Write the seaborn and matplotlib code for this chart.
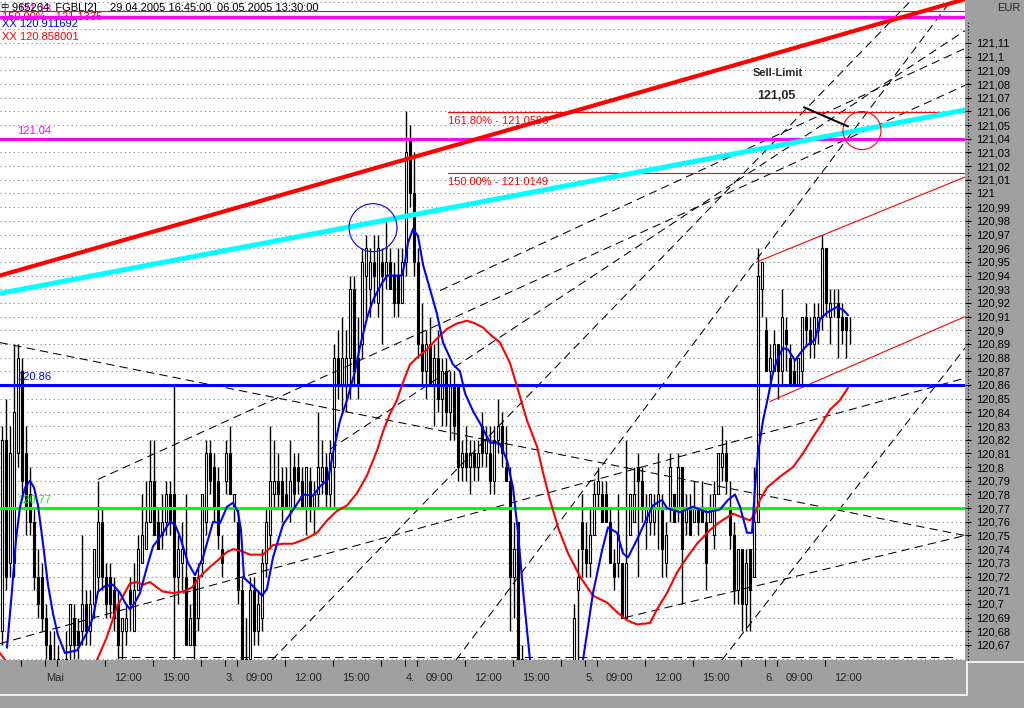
import numpy as np
import pandas as pd
import matplotlib
matplotlib.use("Agg")
import matplotlib.pyplot as plt
from matplotlib.patches import Ellipse
from matplotlib.lines import Line2D
import seaborn as sns

# FGBL 15-minute candles, 29.04.2005 16:45 - 06.05.2005 13:30
# values are ticks above 120.00 (1 tick = 0.01)
bar_open = [68, 82, 73, 73, 81, 87, 81, 78, 76, 72, 72, 69, 67, 66, 66, 65, 65, 67, 69, 68,
            68, 70, 68, 70, 72, 76, 72, 72, 71, 70, 68, 68, 71, 68, 71, 73, 74, 76, 79, 76,
            75, 76, 78, 78, 72, 73, 72, 67, 72, 69, 73, 76, 81, 80, 79, 74, 79, 81, 77, 76,
            71, 65, 66, 71, 68, 69, 73, 75, 78, 79, 79, 78, 77, 80, 80, 79, 77, 79, 77, 78,
            79, 80, 78, 80, 88, 86, 86, 88, 93, 88, 89, 94, 93, 95, 92, 95, 94, 95, 94, 94,
            92, 95, 104, 100, 95, 89, 87, 89, 86, 88, 85, 87, 84, 86, 86, 80, 81, 80, 81, 80,
            83, 81, 81, 79, 82, 83, 80, 79, 72, 76, 66, 63, 65, 61, 59, 60, 57, 59, 58, 59,
            61, 60, 62, 63, 71, 76, 74, 73, 75, 78, 78, 78, 76, 73, 73, 73, 69, 75, 76, 80,
            79, 76, 76, 76, 77, 77, 73, 77, 78, 77, 80, 76, 77, 76, 77, 77, 76, 76, 75, 78,
            80, 81, 77, 75, 71, 74, 70, 74, 72, 76, 93, 90, 87, 87, 89, 87, 90, 88, 87, 86,
            87, 91, 90, 89, 90, 91, 96, 91, 92, 92, 91, 91, 90]
bar_high = [83, 85, 83, 89, 89, 88, 83, 80, 77, 74, 73, 70, 68, 68, 67, 66, 68, 70, 70, 69,
            75, 71, 71, 74, 79, 77, 73, 73, 72, 71, 69, 70, 72, 73, 75, 78, 79, 82, 82, 77,
            78, 79, 79, 86, 75, 76, 78, 70, 72, 73, 78, 82, 82, 81, 80, 75, 82, 83, 78, 77,
            72, 69, 72, 72, 71, 74, 77, 83, 82, 81, 80, 80, 82, 81, 81, 80, 80, 80, 79, 84,
            82, 81, 82, 89, 90, 91, 90, 94, 94, 91, 96, 97, 96, 97, 97, 96, 98, 96, 95, 96,
            96, 106, 105, 103, 96, 92, 90, 91, 89, 90, 88, 88, 87, 87, 86, 82, 83, 82, 82, 82,
            84, 83, 83, 83, 85, 84, 83, 80, 76, 76, 67, 66, 66, 63, 62, 61, 60, 61, 60, 62,
            63, 63, 64, 70, 74, 78, 76, 77, 79, 80, 79, 79, 77, 74, 78, 73, 82, 78, 80, 81,
            80, 78, 78, 78, 81, 78, 76, 81, 78, 81, 80, 78, 78, 79, 77, 79, 77, 78, 79, 81,
            83, 82, 79, 76, 74, 74, 74, 74, 80, 96, 95, 91, 89, 90, 89, 93, 91, 89, 88, 88,
            91, 92, 91, 92, 92, 97, 96, 93, 93, 93, 92, 91, 91]
bar_low = [67, 71, 72, 72, 80, 78, 75, 75, 71, 69, 68, 66, 64, 64, 63, 64, 64, 64, 66, 66,
           67, 67, 67, 69, 71, 71, 69, 69, 68, 66, 66, 67, 68, 68, 71, 73, 74, 76, 75, 74,
           74, 75, 75, 66, 70, 71, 67, 67, 66, 68, 72, 75, 78, 76, 74, 72, 78, 78, 76, 70,
           64, 63, 66, 67, 67, 68, 72, 74, 77, 77, 76, 77, 76, 77, 78, 77, 75, 76, 75, 77,
           78, 77, 77, 77, 85, 84, 84, 85, 86, 85, 88, 91, 91, 92, 91, 89, 93, 93, 91, 91,
           92, 94, 99, 94, 88, 86, 85, 86, 83, 84, 83, 83, 82, 82, 79, 79, 79, 78, 79, 79,
           80, 80, 78, 78, 81, 80, 79, 68, 69, 64, 62, 62, 60, 58, 57, 56, 56, 57, 56, 58,
           59, 59, 60, 62, 63, 72, 72, 72, 75, 77, 76, 76, 73, 71, 72, 69, 69, 75, 76, 72,
           76, 74, 75, 75, 74, 72, 72, 76, 76, 76, 70, 75, 75, 76, 75, 76, 71, 76, 74, 78,
           79, 78, 74, 70, 70, 68, 68, 68, 72, 76, 91, 87, 86, 87, 85, 86, 87, 86, 86, 86,
           86, 89, 88, 88, 89, 90, 91, 89, 91, 88, 89, 88, 89]
bar_close = [82, 72, 81, 84, 88, 79, 77, 76, 72, 70, 69, 67, 65, 66, 64, 65, 66, 70, 67, 67,
             70, 68, 70, 74, 76, 72, 70, 70, 69, 67, 69, 69, 70, 71, 74, 75, 76, 79, 75, 74,
             76, 78, 76, 72, 74, 74, 67, 69, 67, 72, 78, 81, 79, 77, 75, 73, 81, 78, 78, 71,
             65, 66, 71, 68, 70, 73, 76, 79, 79, 78, 77, 77, 79, 78, 79, 77, 80, 77, 78, 80,
             80, 78, 81, 88, 86, 88, 88, 93, 87, 86, 95, 96, 95, 94, 96, 94, 95, 93, 92, 92,
             95, 103, 100, 95, 89, 87, 89, 86, 88, 85, 87, 84, 86, 83, 80, 81, 80, 81, 80, 81,
             81, 82, 79, 82, 83, 81, 79, 72, 74, 65, 63, 65, 61, 59, 60, 57, 59, 58, 59, 61,
             60, 62, 63, 69, 72, 74, 73, 75, 78, 79, 76, 76, 73, 72, 75, 69, 73, 78, 78, 79,
             77, 77, 78, 77, 78, 74, 75, 80, 76, 80, 74, 77, 75, 77, 76, 76, 73, 77, 78, 81,
             81, 79, 75, 71, 74, 70, 73, 71, 76, 94, 95, 87, 88, 89, 87, 91, 89, 86, 86, 88,
             91, 90, 89, 91, 91, 96, 92, 92, 92, 91, 90, 90, 90]

# moving averages (bar index, price)
fast_ma_bar = [1.25, 2.5, 3.5, 4.5, 5.75, 7, 8, 9, 10.25, 11.5, 12.75, 14, 15.75, 17, 18.75,
               21.25, 22.75, 24, 25.75, 27.75, 29.5, 30.75, 32, 33.25, 34.5, 36.25, 37.75,
               40.25, 42, 43.25, 44.5, 46.5, 48.25, 50.25, 51.5, 52.75, 54.5, 56.25, 57.75,
               59, 59.75, 60.5, 62.75, 65, 66.25, 67.75, 70.25, 73.75, 75.25, 77.75, 79.5,
               81.5, 82.75, 84.5, 86.25, 88.25, 89.5, 91.25, 92.75, 94.5, 96.25, 100, 100.75,
               101.5, 102.75, 104, 105.25, 107, 108.75, 110.25, 112.75, 114.5, 115.75, 117.75,
               119.5, 122, 124.5, 126.25, 127.75, 129, 130.25, 132, 135.75, 139.5, 143.25,
               145.25, 147.75, 150, 151.5, 153.75, 155.25, 156.5, 158.75, 161.25, 162.75, 165,
               166.25, 169.5, 172.75, 176.25, 179.5, 181.5, 183.25, 184.5, 186.25, 187.5,
               188.25, 189, 190.25, 191.5, 192.75, 194, 195.25, 196.5, 198.25, 199.5, 201.25,
               203.25, 204.5, 206.25, 208.75, 210.25, 211.5]
fast_ma_price = [120.668, 120.710, 120.747, 120.771, 120.785, 120.790, 120.785, 120.772, 120.744,
                 120.714, 120.693, 120.677, 120.664, 120.665, 120.666, 120.679, 120.690, 120.709,
                 120.713, 120.714, 120.708, 120.701, 120.696, 120.701, 120.708, 120.727, 120.742,
                 120.752, 120.760, 120.758, 120.749, 120.730, 120.721, 120.734, 120.747, 120.760,
                 120.759, 120.771, 120.774, 120.767, 120.754, 120.719, 120.713, 120.706, 120.711,
                 120.734, 120.758, 120.773, 120.780, 120.779, 120.786, 120.791, 120.810, 120.834,
                 120.849, 120.870, 120.888, 120.909, 120.922, 120.932, 120.940, 120.940, 120.950,
                 120.964, 120.974, 120.969, 120.948, 120.930, 120.912, 120.891, 120.875, 120.870,
                 120.854, 120.841, 120.832, 120.818, 120.817, 120.805, 120.785, 120.752, 120.710,
                 120.659, 120.620, 120.610, 120.630, 120.659, 120.708, 120.739, 120.756, 120.752,
                 120.737, 120.734, 120.747, 120.763, 120.772, 120.776, 120.770, 120.767, 120.771,
                 120.767, 120.769, 120.776, 120.780, 120.771, 120.752, 120.752, 120.785, 120.810,
                 120.834, 120.851, 120.869, 120.880, 120.887, 120.886, 120.878, 120.883, 120.889,
                 120.893, 120.908, 120.913, 120.917, 120.915, 120.911]
slow_ma_bar = [-0.5, 0.5, 2.5, 9.5, 17, 22, 23.75, 26.25, 28.75, 32, 33.75, 35.25, 37, 38.75,
               40.25, 42.75, 45.25, 47.5, 49.5, 52, 54, 56.25, 57.75, 59.5, 62, 65.25, 67.75,
               70.25, 72.75, 76.25, 78.75, 81.25, 83.75, 86.25, 88.75, 91.25, 93.75, 95.25, 97,
               98.75, 100.25, 102, 103.75, 106.25, 108.75, 111.25, 113.75, 116.25, 118.25,
               120.25, 122, 124.5, 127, 128.75, 131.25, 133.75, 135.25, 137, 139, 141.5, 144.5,
               147.75, 151.25, 153.75, 156.25, 158.75, 162, 163.75, 166.25, 168.75, 171.25,
               173.75, 177, 179.5, 182.75, 185.25, 187, 188.25, 189.5, 191.25, 194.5, 197.75,
               200.25, 202.75, 205, 207, 209.5, 211.5]
slow_ma_price = [120.664, 120.660, 120.653, 120.637, 120.637, 120.650, 120.659, 120.676, 120.698,
                 120.715, 120.716, 120.714, 120.716, 120.712, 120.709, 120.708, 120.709, 120.712,
                 120.720, 120.727, 120.732, 120.738, 120.740, 120.739, 120.736, 120.736, 120.743,
                 120.744, 120.744, 120.748, 120.752, 120.761, 120.768, 120.772, 120.781, 120.794,
                 120.812, 120.826, 120.839, 120.849, 120.862, 120.875, 120.880, 120.886, 120.894,
                 120.901, 120.905, 120.907, 120.905, 120.902, 120.897, 120.891, 120.876, 120.859,
                 120.834, 120.815, 120.796, 120.776, 120.756, 120.737, 120.720, 120.706, 120.701,
                 120.694, 120.688, 120.685, 120.686, 120.696, 120.708, 120.723, 120.734, 120.744,
                 120.754, 120.760, 120.766, 120.763, 120.761, 120.766, 120.776, 120.785, 120.793,
                 120.800, 120.810, 120.822, 120.832, 120.842, 120.849, 120.858]

# horizontal levels (price, colour, line width)
levels = [(121.1335, '#ff0000', 0.8), (121.129, '#ff00ff', 2.4), (121.04, '#ff00ff', 2.2),
          (120.86, '#0000ff', 2.2), (120.77, '#00ff00', 2.2)]
level_labels = [('121.13', 121.129, '#ff00ff'), ('121.04', 121.04, '#ff00ff'),
                ('120.86', 120.86, '#0000ff'), ('120.77', 120.77, '#00ff00')]
fib_levels = [('161.80% - 121.0596', 121.0596), ('150.00% - 121.0149', 121.0149)]
fib_start_bar = 111.5

# trend lines: (bar0, price0, bar1, price1)
red_trend = (-0.5, 120.940, 240.75, 121.142)
cyan_trend = (-0.5, 120.927, 240.75, 121.061)
channel_lines = [(188.75, 120.950, 240.75, 121.012), (192, 120.848, 240.75, 120.910)]
dashed_lines = [(-0.5, 120.891, 240.75, 120.750),
                (-0.5, 120.671, 240.75, 120.865),
                (24, 120.791, 240.75, 121.079),
                (67.5, 120.659, 227.25, 121.141),
                (113.5, 120.659, 237.25, 121.141),
                (180, 120.659, 240.75, 120.887),
                (155.75, 120.690, 240.75, 120.750),
                (82, 120.813, 240.75, 121.119),
                (109.5, 120.929, 240.75, 121.106),
                (29, 120.661, 238.25, 120.661)]

# time axis
tick_bars = [5, 11, 14, 26, 38, 50, 56, 59, 71, 83, 95, 101, 104, 116, 128, 140, 146, 149,
             161, 173, 185, 191, 194, 206]
tick_texts = ['', 'Mai', '', '12:00', '15:00', '', '3.', '09:00', '12:00', '15:00', '', '4.',
              '09:00', '12:00', '15:00', '', '5.', '09:00', '12:00', '15:00', '', '6.',
              '09:00', '12:00']

PANEL = '#a0a0a0'

sns.set_style("white")
plt.rcParams['font.family'] = ['Liberation Sans', 'DejaVu Sans', 'Noto Sans CJK SC']

fig = plt.figure(figsize=(10.24, 7.08), dpi=100, facecolor=PANEL)
ax = fig.add_axes([0, 48 / 708, 965 / 1024, 660 / 708])
ax.set_facecolor('white')
ax.set_xlim(-0.5, 240.75)
ax.set_ylim(120.659, 121.1414)
for s in ax.spines.values():
    s.set_visible(False)

# dotted price grid
for cent in np.arange(120.66, 121.145, 0.01):
    ax.axhline(cent, color='#808080', lw=0.8, ls=(0, (1, 3)), zorder=0)

# candles
df = pd.DataFrame({'o': bar_open, 'h': bar_high, 'l': bar_low, 'c': bar_close}) / 100 + 120
df['bar'] = np.arange(len(df))
up = df['c'] >= df['o']
ax.vlines(df['bar'], df['l'], df['h'], color='black', lw=1, zorder=2)
ax.bar(df['bar'][up], (df['c'] - df['o'])[up], bottom=df['o'][up], width=0.7,
       color='white', edgecolor='black', lw=0.8, zorder=2.5)
ax.bar(df['bar'][~up], (df['o'] - df['c'])[~up], bottom=df['c'][~up], width=0.7,
       color='black', edgecolor='black', lw=0.8, zorder=2.5)

# dashed construction lines
for b0, p0, b1, p1 in dashed_lines:
    ax.plot([b0, b1], [p0, p1], color='black', lw=0.75, ls=(0, (8, 5)), zorder=3)

# levels
for price, col, lw in levels:
    ax.axhline(price, color=col, lw=lw, zorder=5)
for txt, price in fib_levels:
    ax.plot([fib_start_bar, 240.75], [price, price], color='#ff0000', lw=0.8, zorder=4)
    ax.annotate(txt, xy=(fib_start_bar, price), xytext=(0, -3), textcoords='offset points',
                color='#ff0000', fontsize=8, va='top', ha='left', zorder=4)
for txt, price, col in level_labels:
    ax.annotate(txt, xy=(3.75, price), xytext=(0, 2), textcoords='offset points',
                color=col, fontsize=8, va='bottom', ha='left', zorder=4)

# trend lines
for b0, p0, b1, p1 in channel_lines:
    ax.plot([b0, b1], [p0, p1], color='#ff0000', lw=0.8, zorder=4)
ax.plot(red_trend[::2], red_trend[1::2], color='#ff0000', lw=3.0, zorder=6)
ax.plot(cyan_trend[::2], cyan_trend[1::2], color='#00ffff', lw=3.6, zorder=6)

# moving averages
sns.lineplot(x=slow_ma_bar, y=slow_ma_price, color='#ff0000', lw=1.5, ax=ax, zorder=7)
sns.lineplot(x=fast_ma_bar, y=fast_ma_price, color='#0000ff', lw=1.5, ax=ax, zorder=7)

# circles and sell-limit note
ax.add_patch(Ellipse((92.75, 120.975), 12, 0.0351, fill=False, edgecolor='#0000ff', lw=0.8, zorder=8))
ax.add_patch(Ellipse((215, 121.046), 9.5, 0.0278, fill=False, edgecolor='#ff0000', lw=0.8, zorder=8))
ax.plot([200.5, 211.5], [121.063, 121.049], color='black', lw=1.5, zorder=8)
ax.text(187.75, 121.088, 'Sell-Limit', fontsize=8, fontweight='bold', va='center', zorder=8)
ax.text(188.75, 121.071, '121,05', fontsize=9, fontweight='bold', va='center', zorder=8)

# header texts
hdr = [(0, 8, '中', 'black', 6), (12, 8, '965264  FGBL[2]', 'black', 8),
       (110, 8, '29.04.2005 16:45:00', 'black', 8), (217, 8, '06.05.2005 13:30:00', 'black', 8),
       (2, 17, '150.00% - 121.1335', '#ff0000', 8),
       (2, 24, 'XX 120.911692', '#0000ff', 8), (2, 37, 'XX 120.858001', '#ff0000', 8)]
for px, py, txt, col, fs in hdr:
    ax.annotate(txt, xy=(px, 660 - py), xycoords='axes pixels', color=col, fontsize=fs,
                va='center', ha='left', zorder=4)

# price axis
ax.yaxis.tick_right()
yt = np.round(np.arange(120.67, 121.115, 0.01), 2)
ax.set_yticks(yt)
ax.set_yticklabels([f"{v:.2f}".rstrip('0').rstrip('.').replace('.', ',') for v in yt])
ax.tick_params(axis='y', direction='out', length=4, width=0.8, colors='black', labelsize=8, pad=4)
fig.text(1020 / 1024, 1 - 8 / 708, 'EUR', fontsize=8, ha='right', va='center')
fig.add_artist(Line2D([968 / 1024, 968 / 1024], [1 - 660 / 708, 1 - 20 / 708],
                      color='black', lw=0.8, ls=(0, (1, 2)), transform=fig.transFigure))

# time axis
ax.set_xticks(np.array(tick_bars) - 0.3)
ax.set_xticklabels([''] * len(tick_bars))
ax.tick_params(axis='x', direction='out', length=4, width=0.8, colors='black', bottom=True)
for b, txt in zip(tick_bars, tick_texts):
    if not txt:
        continue
    dx = 0.7 if txt.endswith('.') or txt == 'Mai' else 6.5
    ax.annotate(txt, xy=(b - 0.3, 0), xycoords=ax.get_xaxis_transform(), xytext=(dx, -13),
                textcoords='offset points', fontsize=8, va='center', ha='left',
                annotation_clip=False)

# panel bevels
fig.add_artist(Line2D([0, 967 / 1024], [13 / 708, 13 / 708], color='white', lw=1.2, transform=fig.transFigure))
fig.add_artist(Line2D([967 / 1024, 967 / 1024], [13 / 708, 46 / 708], color='white', lw=1.2, transform=fig.transFigure))
fig.add_artist(Line2D([967 / 1024, 1], [46 / 708, 46 / 708], color='white', lw=1.2, transform=fig.transFigure))

fig.savefig('out.png', dpi=100, facecolor=PANEL)
